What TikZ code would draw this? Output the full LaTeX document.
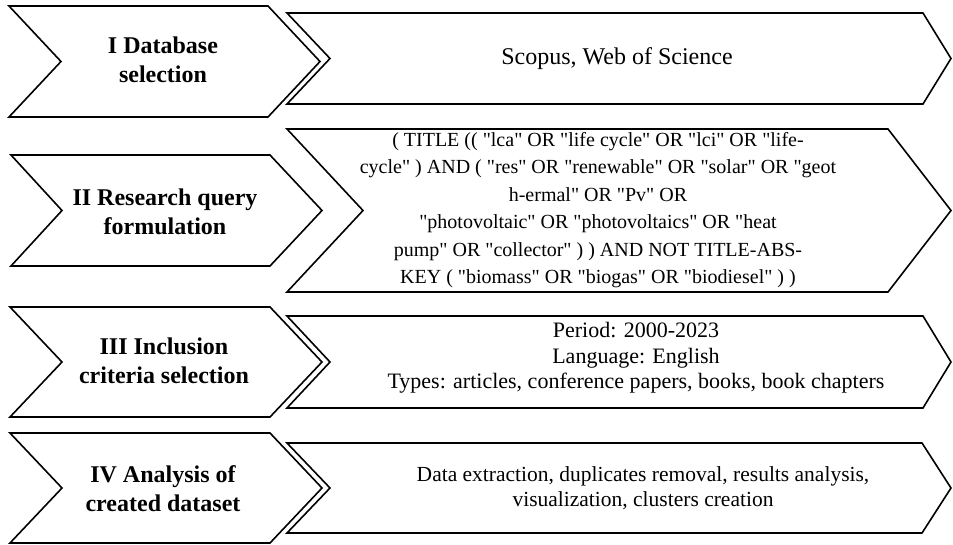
\documentclass[tikz,border=0pt]{standalone}
\usepackage{fontspec}
\setmainfont{Liberation Serif}[Ligatures=TeXOff]
\begin{document}
\begin{tikzpicture}[x=1pt,y=-1pt,
  chev/.style={draw=black, line width=1.6pt, fill=white, line join=miter},
  lab/.style={font=\bfseries\fontsize{24}{29}\selectfont, align=center, inner sep=0pt},
  txt/.style={align=center, inner sep=0pt}]
\useasboundingbox (0,0) rectangle (953,544);
% row 1
\draw[chev] (287,13) -- (923,13) -- (951,58.5) -- (923,104) -- (287,104) -- (330,58.5) -- cycle;
\draw[chev] (9,6) -- (268,6) -- (320,61.5) -- (268,117) -- (9,117) -- (61,61.5) -- cycle;
% row 2
\draw[chev] (287,129) -- (888,129) -- (951,210.5) -- (888,292) -- (287,292) -- (363,210.5) -- cycle;
\draw[chev] (11,155) -- (270,155) -- (322,210.5) -- (270,266) -- (11,266) -- (62,210.5) -- cycle;
% row 3
\draw[chev] (287,316) -- (923,316) -- (951,362) -- (923,408) -- (287,408) -- (330,362) -- cycle;
\draw[chev] (10,307) -- (270,307) -- (322,362) -- (270,417) -- (10,417) -- (62,362) -- cycle;
% row 4
\draw[chev] (287,443) -- (922,443) -- (951,488) -- (922,533) -- (287,533) -- (330,488) -- cycle;
\draw[chev] (10,433) -- (270,433) -- (322,488) -- (270,543) -- (10,543) -- (62,488) -- cycle;
% labels
\node[lab] (l1) at (163,60) {I Database\\selection};
\node[lab] (l2) at (165,212) {II Research query\\formulation};
\node[lab] (l3) at (164,361) {III Inclusion\\criteria selection};
\node[lab] (l4) at (163,489) {IV Analysis of\\created dataset};
% texts
\node[txt, font=\fontsize{24}{28}\selectfont] (t1) at (617,59) {Scopus, Web of Science};
\node[txt, font=\fontsize{20}{27.5}\selectfont] (t2) at (598,210) {( TITLE (( "lca" OR "life cycle" OR "lci" OR "life-\\
cycle" ) AND ( "res" OR "renewable" OR "solar" OR "geot\\
h-ermal" OR "Pv" OR\\
"photovoltaic" OR "photovoltaics" OR "heat\\
pump" OR "collector" ) ) AND NOT TITLE-ABS-\\
KEY ( "biomass" OR "biogas" OR "biodiesel" ) )};
\node[txt, font=\fontsize{22}{25.5}\selectfont] (t3) at (636,358) {Period: 2000-2023\\Language: English\\Types: articles, conference papers, books, book chapters};
\node[txt, font=\fontsize{21.5}{24.5}\selectfont] (t4) at (643,488) {Data extraction, duplicates removal, results analysis,\\visualization, clusters creation};
\end{tikzpicture}
\end{document}
